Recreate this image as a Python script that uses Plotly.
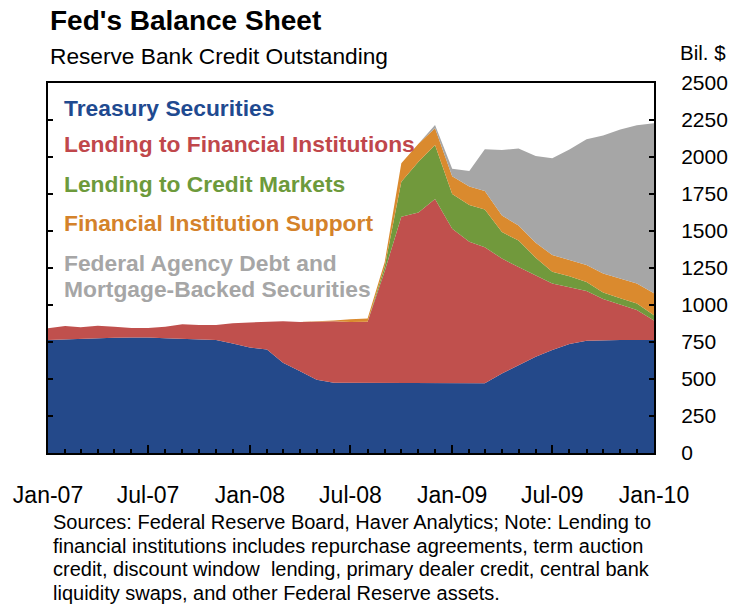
import pandas as pd
import plotly.graph_objects as go

# Monthly observations, Jan-2007 .. Jan-2010 (billions of dollars)
months = pd.date_range("2007-01-01", "2010-01-01", freq="MS")

treasury = [763, 768, 772, 777, 779, 781, 781, 775, 770, 768, 763, 740, 712,
            700, 610, 553, 495, 475, 475, 475, 475, 475, 475, 475,
            471, 471, 471, 538, 595, 651, 696, 736, 759, 763, 763, 763, 763]

lending_fin_inst = [80, 90, 78, 83, 74, 64, 64, 78, 100, 97, 102, 136, 170,
                    187, 280, 332, 393, 415, 410, 412, 755, 1122, 1150, 1241,
                    1044, 957, 919, 776, 661, 549, 449, 384, 336, 277, 237, 203, 132]

lending_credit_mkts = [0, 0, 0, 0, 0, 0, 0, 0, 0, 0, 0, 0, 0,
                       0, 0, 0, 0, 0, 0, 0, 30, 236, 343, 365,
                       235, 248, 255, 179, 179, 120, 79, 75, 60, 45, 45, 44, 35]

fin_inst_support = [0, 0, 0, 0, 0, 0, 0, 0, 0, 0, 0, 0, 0,
                    0, 0, 0, 0, 5, 18, 22, 30, 124, 122, 113,
                    120, 124, 125, 112, 102, 100, 113, 110, 115, 127, 135, 135, 150]

agency_mbs = [0, 0, 0, 0, 0, 0, 0, 0, 0, 0, 0, 0, 0,
              0, 0, 0, 0, 0, 0, 0, 0, 0, 0, 22,
              50, 105, 282, 442, 521, 587, 655, 745, 850, 933, 1005, 1070, 1148]

series = [
    ("Treasury Securities", treasury, "#24498A"),
    ("Lending to Financial Institutions", lending_fin_inst, "#C0504D"),
    ("Lending to Credit Markets", lending_credit_mkts, "#71993C"),
    ("Financial Institution Support", fin_inst_support, "#DA8A2E"),
    ("Federal Agency Debt and Mortgage-Backed Securities", agency_mbs, "#A6A6A6"),
]

FONT = "Liberation Sans, Arial, sans-serif"
W, H = 740, 606
L, R, T, B = 48, 663, 83, 453   # plot box in pixels


def px(x):
    return (x - L) / (R - L)


def py(y):
    return (B - y) / (B - T)


fig = go.Figure()
for name, vals, color in series:
    fig.add_trace(go.Scatter(
        x=months, y=vals, name=name, stackgroup="one", mode="lines",
        line=dict(width=0, color=color), fillcolor=color, hoverinfo="skip",
    ))

annotations = []

# legend written inside the plot
legend_items = [
    ("Treasury Securities", "#1F4A90", 108),
    ("Lending to Financial Institutions", "#C0474B", 144),
    ("Lending to Credit Markets", "#6D9A3B", 184),
    ("Financial Institution Support", "#D4822A", 223),
    ("Federal Agency Debt and", "#A6A6A6", 263),
    ("Mortgage-Backed Securities", "#A6A6A6", 289),
]
for text, color, y in legend_items:
    annotations.append(dict(
        text=f"<b>{text}</b>", x=px(62), y=py(y), xref="paper", yref="paper",
        xanchor="left", yanchor="middle", showarrow=False,
        font=dict(family=FONT, size=22.8, color=color),
    ))

# titles
annotations.append(dict(
    text="<b>Fed's Balance Sheet</b>", x=px(48), y=py(21), xref="paper", yref="paper",
    xanchor="left", yanchor="middle", showarrow=False,
    font=dict(family=FONT, size=28, color="black"),
))
annotations.append(dict(
    text="Reserve Bank Credit Outstanding", x=px(48), y=py(56), xref="paper", yref="paper",
    xanchor="left", yanchor="middle", showarrow=False,
    font=dict(family=FONT, size=22.7, color="black"),
))
annotations.append(dict(
    text="Bil. $", x=px(687), y=py(53), xref="paper", yref="paper",
    xanchor="left", yanchor="middle", showarrow=False,
    font=dict(family=FONT, size=20.5, color="black"),
))

# footnote
note_lines = [
    "Sources: Federal Reserve Board, Haver Analytics; Note: Lending to",
    "financial institutions includes repurchase agreements, term auction",
    "credit, discount window  lending, primary dealer credit, central bank",
    "liquidity swaps, and other Federal Reserve assets.",
]
for i, line in enumerate(note_lines):
    annotations.append(dict(
        text=line, x=px(51), y=py(522 + 23.7 * i), xref="paper", yref="paper",
        xanchor="left", yanchor="middle", showarrow=False,
        font=dict(family=FONT, size=20, color="black"),
    ))

fig.update_layout(
    width=W, height=H,
    margin=dict(l=L, r=W - R, t=T, b=H - B, pad=0),
    plot_bgcolor="white", paper_bgcolor="white",
    showlegend=False,
    font=dict(family=FONT, color="black"),
    annotations=annotations,
    xaxis=dict(
        type="date", range=["2007-01-01", "2010-01-01"],
        tick0="2007-01-01", dtick="M6", tickformat="%b-%y",
        ticks="inside", ticklen=8, tickwidth=2, tickcolor="black",
        minor=dict(dtick="M1", ticks="inside", ticklen=4, tickwidth=1.5, tickcolor="black"),
        showline=True, linecolor="black", linewidth=2, mirror=True,
        showgrid=False, zeroline=False,
        tickfont=dict(family=FONT, size=23, color="black"),
        ticklabelstandoff=20,
    ),
    yaxis=dict(
        side="right", range=[0, 2500], tick0=0, dtick=250,
        ticks="inside", ticklen=5, tickwidth=2, tickcolor="black",
        showline=True, linecolor="black", linewidth=2, mirror="ticks",
        showgrid=False, zeroline=False,
        tickfont=dict(family=FONT, size=21, color="black"),
        ticklabelstandoff=21,
    ),
)

fig.write_html("out.html")
